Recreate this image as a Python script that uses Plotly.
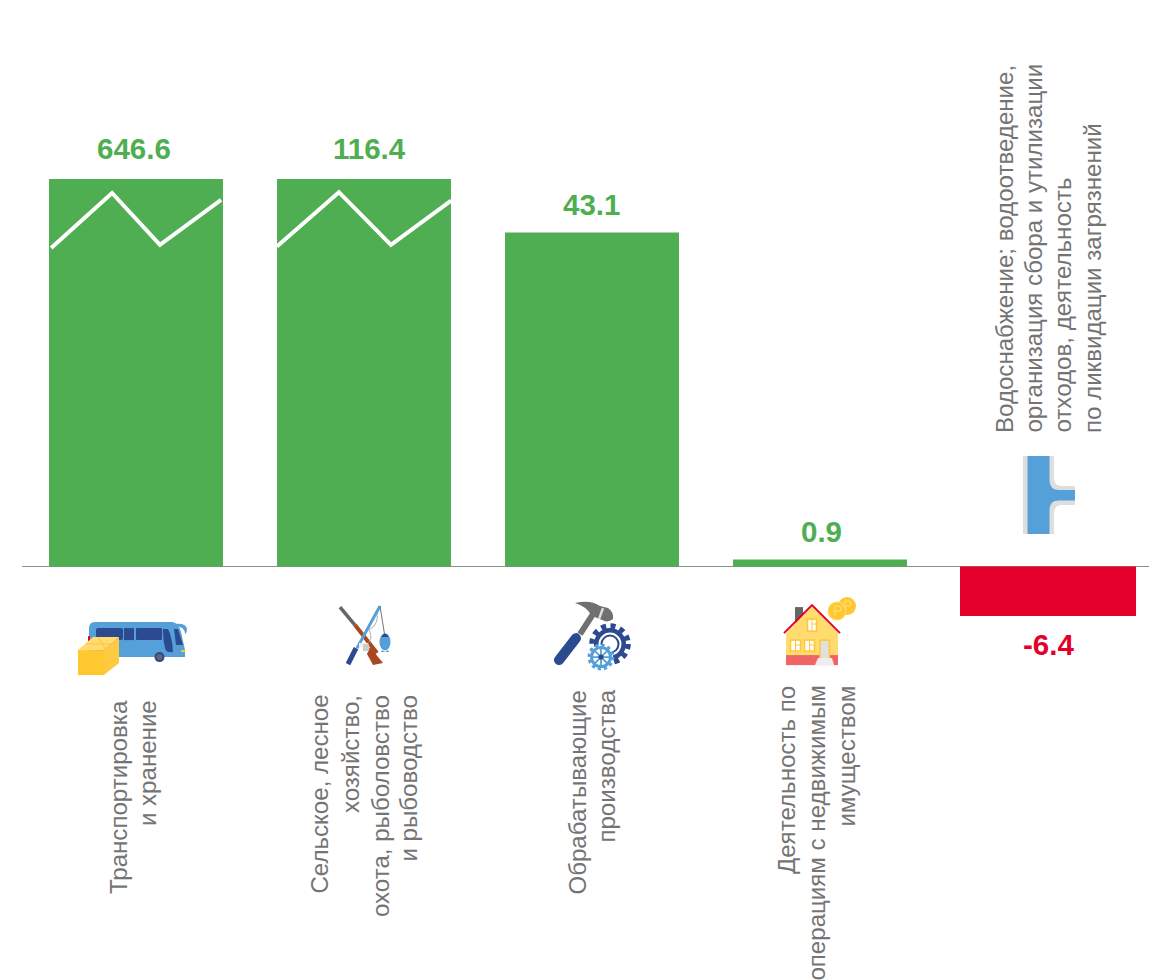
import base64
import plotly.graph_objects as go

# Data
categories = [0, 1, 2, 3, 4]
values = [646.6, 116.4, 43.1, 0.9, -6.4]
value_labels = ['646.6', '116.4', '43.1', '0.9', '-6.4']
label_lines = [
    ['Транспортировка', 'и хранение'],
    ['Сельское, лесное', 'хозяйство,', 'охота, рыболовство', 'и рыбоводство'],
    ['Обрабатывающие', 'производства'],
    ['Деятельность по', 'операциям с недвижимым', 'имуществом'],
    ['Водоснабжение; водоотведение,', 'организация сбора и утилизации',
     'отходов, деятельность', 'по ликвидации загрязнений'],
]

# Axis is cut at 50, the two large bars run past it
axis_cut = 50
break_x = [[-0.372, -0.105, 0.105, 0.373], [-0.382, -0.11, 0.118, 0.382]]
break_y = [[41.1, 48.2, 41.5, 47.3], [41.3, 48.3, 41.5, 47.2]]

GREEN = '#50AE52'
RED = '#E4002B'
GRAY = '#747474'
BLUE = '#55A0D8'
NAVY = '#2B4A8F'
YELLOW = '#FFC730'

# Page position of the plot area
PX_LEFT, PX_RIGHT, PX_TOP, PX_BOTTOM = 22, 1157, 179, 643.9


def paper_x(px):
    return (px - PX_LEFT) / (PX_RIGHT - PX_LEFT)


def paper_y(py):
    return (PX_BOTTOM - py) / (PX_BOTTOM - PX_TOP)


# Icons, drawn in page pixels
bus_svg = f'''
<path d="M89 657V628Q89 622 95 622H172Q178 622 181 632L185 650V657Z" fill="{BLUE}"/>
<path d="M173 624Q186 622 187 629Q187 633 185 634Q185 627 176 626Z" fill="{BLUE}"/>
<rect x="88" y="636" width="2" height="6" fill="{RED}"/>
<rect x="96" y="628" width="27" height="12" rx="2" fill="{NAVY}"/>
<rect x="124" y="628" width="10" height="12" fill="{NAVY}"/>
<rect x="136" y="628" width="26" height="12" rx="1" fill="{NAVY}"/>
<path d="M163 629H168Q172 636 173 652Q166 653 165 648Q163 640 163 629Z" fill="{NAVY}"/>
<path d="M174 629H178L183 645H176Z" fill="{NAVY}"/>
<rect x="181" y="650" width="4" height="2" fill="{YELLOW}"/>
<circle cx="159.500" cy="657" r="5" fill="{NAVY}"/>
<circle cx="159.500" cy="657" r="3" fill="#666"/>
<path d="M78 650H104V675H78Z" fill="{YELLOW}"/>
<path d="M104 650L119 637V663L104 675Z" fill="#FFC940"/>
<path d="M78 650L93 637H119L104 650Z" fill="#FFDB70"/>
<path d="M86 644H111M98 637L106 650" stroke="{YELLOW}" stroke-width="1" fill="none"/>
'''

fishing_svg = f'''
<path d="M340 607L355 625" stroke="#666" stroke-width="3.500"/>
<path d="M355 625L377 653" stroke="#A8481C" stroke-width="4"/>
<path d="M370 647L383 663L373 665L367 654Z" fill="#A8481C"/>
<path d="M380 606L357 648" stroke="{BLUE}" stroke-width="3"/>
<path d="M356 648L348 664" stroke="{NAVY}" stroke-width="5"/>
<path d="M380 606L384.500 634" stroke="#777" stroke-width="1"/>
<path d="M377 613Q379 624 369 630Q374 638 366 646" stroke="#999" stroke-width="0.800" fill="none"/>
<rect x="359" y="643" width="9" height="4" fill="#eee"/>
<rect x="363" y="644" width="6" height="7" fill="#ccc"/>
<ellipse cx="385" cy="642" rx="5.500" ry="8.500" fill="{BLUE}"/>
<path d="M381 637Q385 630 389 637Z" fill="{NAVY}"/>
<path d="M382 650L385 652L388 650L389 652H381Z" fill="{BLUE}"/>
'''

tools_svg = f'''
<path d="M580 634L593 614" stroke="#707070" stroke-width="6"/>
<path d="M559 660L576 638" stroke="{NAVY}" stroke-width="10" stroke-linecap="round"/>
<path d="M575 603Q590 599 600 606L608 608Q614 612 613 619Q608 623 602 620L592 616Q586 606 575 603Z" fill="#707070"/>
<path d="M603 608L599 619" stroke="#ddd" stroke-width="2.500"/>
<circle cx="610" cy="644" r="16" fill="{NAVY}"/>
<circle cx="610" cy="644" r="18" fill="none" stroke="{NAVY}" stroke-width="5.500" stroke-dasharray="5 4.420"/>
<circle cx="610" cy="644" r="11.500" fill="#fff"/>
<circle cx="610" cy="644" r="9.500" fill="{NAVY}"/>
<circle cx="610" cy="644" r="7.500" fill="#fff"/>
<circle cx="601" cy="657" r="12" fill="#fff"/>
<circle cx="601" cy="657" r="9.500" fill="none" stroke="{BLUE}" stroke-width="3"/>
<circle cx="601" cy="657" r="12" fill="none" stroke="{BLUE}" stroke-width="3" stroke-dasharray="3.200 3.083"/>
<path d="M592 657H610M601 648V666M595 651L607 663M607 651L595 663" stroke="{BLUE}" stroke-width="1.800"/>
<circle cx="601" cy="657" r="2.500" fill="{NAVY}"/>
'''

house_svg = f'''
<rect x="795" y="607" width="8" height="16" fill="#666"/>
<path d="M786 633L812 606L838 633V665H786Z" fill="#FFDB70"/>
<rect x="786" y="655" width="52" height="10" fill="#EF6464"/>
<path d="M784 633L812 605L840 633" stroke="{RED}" stroke-width="2" fill="none"/>
<rect x="807.500" y="619" width="9" height="12" fill="#fff" stroke="{YELLOW}" stroke-width="1.500"/>
<path d="M812 619V631M812 624H817" stroke="{YELLOW}" stroke-width="1"/>
<rect x="790.500" y="640" width="10" height="11" fill="#fff" stroke="{YELLOW}" stroke-width="1.500"/>
<path d="M795.500 640V651M795.500 645H800" stroke="{YELLOW}" stroke-width="1"/>
<rect x="804.500" y="640" width="10" height="11" fill="#fff" stroke="{YELLOW}" stroke-width="1.500"/>
<path d="M809.500 640V651M809.500 645H814" stroke="{YELLOW}" stroke-width="1"/>
<rect x="820" y="640" width="9.500" height="19" fill="#E0E0E0" stroke="{YELLOW}" stroke-width="1.500"/>
<path d="M818 658H832L834 665H815Z" fill="#eee"/>
<circle cx="847" cy="606" r="9" fill="{YELLOW}"/>
<circle cx="837" cy="611" r="9" fill="{YELLOW}" stroke="#FFDB70" stroke-width="1"/>
<path d="M835 616V606H838.500Q841 606 841 608.500Q841 611 838.500 611H833M845 610V601H848.500Q851 601 851 603.500Q851 606 848.500 606H843" stroke="#FFDB70" stroke-width="1.300" fill="none"/>
'''

pipe_svg = f'''
<path d="M1023 456H1054V478Q1054 486 1062 486H1075V505H1062Q1054 505 1054 513V534H1023Z" fill="#DEDEDE"/>
<path d="M1027.500 456H1049.500V480Q1049.500 490 1059 490H1075V500.500H1059Q1049.500 500.500 1049.500 510V534H1027.500Z" fill="{BLUE}"/>
'''

# box is left, top, width, height of the icon on the page
icons = [
    (bus_svg, (78, 620, 110, 56)),
    (fishing_svg, (338, 604, 54, 63)),
    (tools_svg, (552, 598, 84, 74)),
    (house_svg, (782, 596, 76, 70)),
    (pipe_svg, (1022, 455, 54, 80)),
]

images = []
for svg, box in icons:
    left, top, w, h = box
    doc = (f'<svg xmlns="http://www.w3.org/2000/svg" width="{w * 3}" height="{h * 3}" '
           f'viewBox="{left} {top} {w} {h}">{svg}</svg>')
    images.append(dict(
        source='data:image/svg+xml;base64,' + base64.b64encode(doc.encode()).decode(),
        xref='paper', yref='paper',
        x=paper_x(left), y=paper_y(top),
        sizex=w / (PX_RIGHT - PX_LEFT), sizey=h / (PX_BOTTOM - PX_TOP),
        xanchor='left', yanchor='top', sizing='stretch', layer='above',
    ))

fig = go.Figure()

fig.add_trace(go.Bar(
    x=categories,
    y=values,
    width=[0.763, 0.763, 0.763, 0.763, 0.772],
    marker_color=[GREEN, GREEN, GREEN, GREEN, RED],
    marker_line_width=0,
    hoverinfo='skip',
))

# White break marks on the two cut bars
for i in [0, 1]:
    fig.add_trace(go.Scatter(
        x=[i + v for v in break_x[i]],
        y=break_y[i],
        mode='lines',
        line=dict(color='white', width=4),
        hoverinfo='skip',
    ))

annotations = []

# Value labels
label_xshift = [-2, 5, -1, 1, 0]
label_yshift = [31, 31, 28, 28, -28]
for cat, val, text in zip(categories, values, value_labels):
    annotations.append(dict(
        x=cat, y=min(val, axis_cut), xref='x', yref='y',
        text=f'<b>{text}</b>',
        showarrow=False,
        xanchor='center',
        yanchor='middle',
        xshift=label_xshift[cat],
        yshift=label_yshift[cat],
        font=dict(family='Liberation Sans', size=29.5, color=GREEN if val > 0 else RED),
    ))

# Rotated category labels, one annotation per line to keep the line pitch
line_x = [[118, 147], [320, 350, 380, 409], [578, 607], [786, 817, 847],
          [1004, 1034, 1063, 1092]]
line_end = [699, 694, 689, 685, 434]
for cat, lines in zip(categories, label_lines):
    for text, px in zip(lines, line_x[cat]):
        is_top = cat == 4
        annotations.append(dict(
            x=paper_x(px), y=paper_y(line_end[cat]), xref='paper', yref='paper',
            text=text,
            textangle=-90,
            showarrow=False,
            xanchor='center',
            yanchor='bottom' if is_top else 'top',
            borderpad=0,
            font=dict(family='Liberation Sans', size=24.1, color=GRAY),
        ))

fig.update_layout(
    width=1157,
    height=972,
    margin=dict(l=14, r=8, t=171, b=336.1),
    plot_bgcolor='white',
    paper_bgcolor='white',
    showlegend=False,
    annotations=annotations,
    images=images,
    xaxis=dict(range=[-0.5, 4.478], visible=False, fixedrange=True),
    yaxis=dict(
        range=[-10, axis_cut],
        showgrid=False,
        showticklabels=False,
        zeroline=True,
        zerolinecolor='#8C8C8C',
        zerolinewidth=1,
        fixedrange=True,
    ),
)

fig.write_html('out.html')
